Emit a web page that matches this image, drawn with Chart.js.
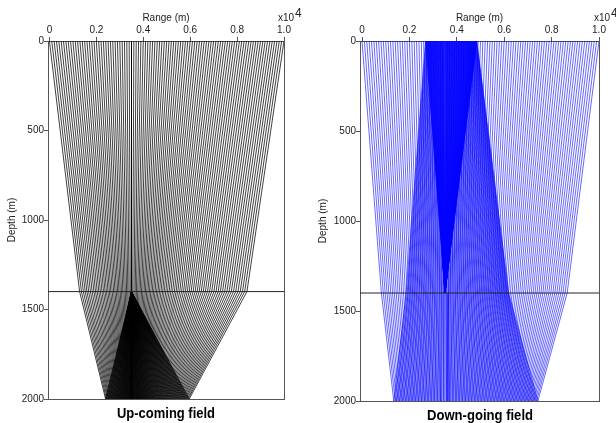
<!DOCTYPE html>
<html>
<head>
<meta charset="utf-8">
<script src="https://cdn.jsdelivr.net/npm/chart.js@4"></script>
<style>
    html, body { margin: 0; padding: 0; background: #fff; }
    canvas { position: absolute; top: 0; }
    #upChart { left: 0; }
    #downChart { left: 308px; }
</style>
</head>
<body>
<canvas id="upChart" width="308" height="423"></canvas>
<canvas id="downChart" width="308" height="423"></canvas>
<script>
// --- DATA ---
const rangeTicks = [0, 2000, 4000, 6000, 8000, 10000];
const rangeLabels = ['0', '0.2', '0.4', '0.6', '0.8', '1.0'];
const depthTicks = [0, 500, 1000, 1500, 2000];
const depthLabels = ['0', '500', '1000', '1500', '2000'];

const sourceX = 3500;
const interfaceDepth = 1400;
const bottomDepth = 2000;

// receivers on the surface, one ray each
const surfaceX = [
    0, 100, 200, 300, 400, 500, 600, 700, 800, 900,
    1000, 1100, 1200, 1300, 1400, 1500, 1600, 1700, 1800, 1900,
    2000, 2100, 2200, 2300, 2400, 2500, 2600, 2700, 2800, 2900,
    3000, 3100, 3200, 3300, 3400, 3500, 3600, 3700, 3800, 3900,
    4000, 4100, 4200, 4300, 4400, 4500, 4600, 4700, 4800, 4900,
    5000, 5100, 5200, 5300, 5400, 5500, 5600, 5700, 5800, 5900,
    6000, 6100, 6200, 6300, 6400, 6500, 6600, 6700, 6800, 6900,
    7000, 7100, 7200, 7300, 7400, 7500, 7600, 7700, 7800, 7900,
    8000, 8100, 8200, 8300, 8400, 8500, 8600, 8700, 8800, 8900,
    9000, 9100, 9200, 9300, 9400, 9500, 9600, 9700, 9800, 9900, 10000
];

// up-coming: sideways travel of one leg in the lower layer
const upLowerShift = [
    -1106, -1067, -1027, -988, -951, -914, -876, -839, -802, -767,
    -732, -697, -664, -630, -597, -565, -534, -502, -472, -442,
    -412, -382, -353, -325, -296, -269, -241, -214, -186, -159,
    -132, -105, -79, -53, -26, 0, 26, 53, 79, 105,
    132, 159, 186, 214, 241, 269, 296, 325, 353, 382,
    412, 442, 472, 502, 534, 565, 597, 630, 664, 697,
    732, 767, 802, 839, 876, 914, 951, 988, 1028, 1068,
    1109, 1149, 1189, 1230, 1271, 1314, 1357, 1400, 1443, 1487,
    1531, 1575, 1620, 1665, 1710, 1756, 1802, 1848, 1894, 1940,
    1987, 2034, 2081, 2128, 2175, 2222, 2270, 2317, 2365, 2412, 2460
];

// down-going: sideways travel of one leg in the upper layer
const downUpperShift = [
    -819, -797, -776, -754, -732, -709, -687, -665, -642, -619,
    -597, -573, -550, -527, -504, -481, -457, -433, -410, -386,
    -362, -338, -315, -291, -267, -243, -218, -194, -170, -146,
    -121, -97, -73, -49, -24, 0, 24, 49, 73, 97,
    121, 146, 170, 194, 218, 243, 267, 291, 315, 338,
    362, 386, 410, 433, 457, 481, 504, 527, 550, 573,
    597, 619, 642, 665, 687, 709, 732, 754, 776, 797,
    819, 841, 861, 883, 903, 924, 944, 965, 984, 1004,
    1023, 1042, 1061, 1079, 1097, 1115, 1133, 1150, 1167, 1183,
    1200, 1216, 1232, 1247, 1261, 1276, 1291, 1304, 1318, 1331, 1344
];

// down-going: sideways travel of one leg in the lower layer
const downLowerShift = [
    -522, -504, -486, -469, -452, -436, -419, -403, -387, -371,
    -355, -340, -325, -309, -294, -279, -265, -250, -235, -221,
    -207, -193, -178, -164, -150, -136, -123, -109, -95, -81,
    -68, -54, -41, -27, -14, 0, 14, 27, 41, 54,
    68, 81, 95, 109, 123, 136, 150, 164, 178, 193,
    207, 221, 235, 250, 265, 279, 294, 309, 325, 340,
    355, 371, 387, 403, 419, 436, 452, 469, 486, 504,
    522, 539, 558, 576, 595, 614, 634, 653, 674, 694,
    716, 737, 759, 781, 804, 827, 851, 875, 899, 925,
    950, 976, 1002, 1030, 1058, 1086, 1114, 1144, 1173, 1203, 1234
];

// --- RAY PATHS ---
function upRay(i) {
    const h = upLowerShift[i];
    return [
        { x: surfaceX[i], y: 0 },
        { x: sourceX + 2 * h, y: interfaceDepth },
        { x: sourceX + h, y: bottomDepth },
        { x: sourceX, y: interfaceDepth }
    ];
}

function downRay(i) {
    const u = downUpperShift[i];
    const h = downLowerShift[i];
    return [
        { x: sourceX, y: interfaceDepth },
        { x: sourceX + u, y: 0 },
        { x: sourceX + 2 * u, y: interfaceDepth },
        { x: sourceX + 2 * u + h, y: bottomDepth },
        { x: sourceX + 2 * u + 2 * h, y: interfaceDepth },
        { x: surfaceX[i], y: 0 }
    ];
}

// --- CHART SETUP ---
const axisColor = '#555';
const textColor = '#222';
const labelFont = { family: '"Liberation Sans", Arial, sans-serif', size: 10 };

function makePanel(id, cfg) {
    const rays = surfaceX.map((_, i) => ({
        data: cfg.ray(i),
        borderColor: cfg.color,
        borderWidth: cfg.lineWidth,
        pointRadius: 0,
        showLine: true,
        tension: 0
    }));
    rays.unshift({
        data: [{ x: cfg.xMin, y: interfaceDepth }, { x: 10000, y: interfaceDepth }],
        borderColor: cfg.interfaceColor,
        borderWidth: 1,
        pointRadius: 0,
        showLine: true
    });

    new Chart(document.getElementById(id).getContext('2d'), {
        type: 'scatter',
        data: { datasets: rays },
        options: {
            responsive: false,
            animation: false,
            events: [],
            layout: { padding: { left: 0, top: 0, right: cfg.padRight, bottom: cfg.padBottom } },
            plugins: { legend: { display: false }, tooltip: { enabled: false } },
            scales: {
                x: {
                    type: 'linear',
                    position: 'top',
                    min: cfg.xMin,
                    max: 10000,
                    afterFit: s => { s.height = 41; },
                    afterBuildTicks: s => { s.ticks = rangeTicks.map(v => ({ value: v })); },
                    title: { display: true, text: 'Range (m)', color: textColor, font: labelFont, padding: { top: 12, bottom: 0 } },
                    border: { color: axisColor, width: 1 },
                    grid: { drawOnChartArea: false, tickLength: 4, tickColor: axisColor },
                    ticks: {
                        color: textColor, font: labelFont, padding: 1, maxRotation: 0, autoSkip: false,
                        callback: v => rangeLabels[rangeTicks.indexOf(v)]
                    }
                },
                y: {
                    type: 'linear',
                    reverse: true,
                    min: 0,
                    max: bottomDepth,
                    afterFit: s => { s.width = cfg.padLeft; },
                    afterBuildTicks: s => { s.ticks = depthTicks.map(v => ({ value: v })); },
                    title: { display: true, text: 'Depth (m)', color: textColor, font: labelFont, padding: { top: cfg.titleGap, bottom: 0 } },
                    border: { color: axisColor, width: 1 },
                    grid: { drawOnChartArea: false, tickLength: 4, tickColor: axisColor },
                    ticks: {
                        color: textColor, font: labelFont, padding: 0, autoSkip: false,
                        callback: v => depthLabels[depthTicks.indexOf(v)]
                    }
                },
                // plain box edges, no ticks
                xEdge: {
                    type: 'linear', position: 'bottom',
                    afterFit: s => { s.height = 0; },
                    border: { color: axisColor, width: 1 },
                    grid: { display: false },
                    ticks: { display: false }
                },
                yEdge: {
                    type: 'linear', position: 'right',
                    afterFit: s => { s.width = 0; },
                    border: { color: axisColor, width: 1 },
                    grid: { display: false },
                    ticks: { display: false }
                }
            }
        },
        plugins: [{
            id: 'panelText',
            afterDraw(chart) {
                const ctx = chart.ctx;
                ctx.save();
                ctx.fillStyle = textColor;
                ctx.textBaseline = 'middle';
                ctx.textAlign = 'left';
                ctx.font = '10px "Liberation Sans", Arial, sans-serif';
                ctx.fillText('x10', cfg.expX, 18);
                ctx.font = '12px "Liberation Sans", Arial, sans-serif';
                ctx.fillText('4', cfg.expX + 17, 14);
                ctx.fillStyle = '#000';
                ctx.textAlign = 'center';
                ctx.font = 'bold 15px "Liberation Sans", Arial, sans-serif';
                ctx.fillText(cfg.caption, cfg.captionX, cfg.captionY, cfg.captionWidth);
                ctx.restore();
            }
        }]
    });
}

document.addEventListener('DOMContentLoaded', () => {
    makePanel('upChart', {
        ray: upRay, color: '#000', lineWidth: 0.75, interfaceColor: '#222',
        xMin: -60, padLeft: 48, padRight: 24, padBottom: 24, titleGap: 6,
        expX: 278, caption: 'Up-coming field', captionX: 166, captionY: 414, captionWidth: 98
    });
    makePanel('downChart', {
        ray: downRay, color: '#0000ff', lineWidth: 0.6, interfaceColor: '#223',
        xMin: -85, padLeft: 52, padRight: 17, padBottom: 22, titleGap: 9,
        expX: 286, caption: 'Down-going field', captionX: 172, captionY: 416, captionWidth: 106
    });
});
</script>
</body>
</html>
